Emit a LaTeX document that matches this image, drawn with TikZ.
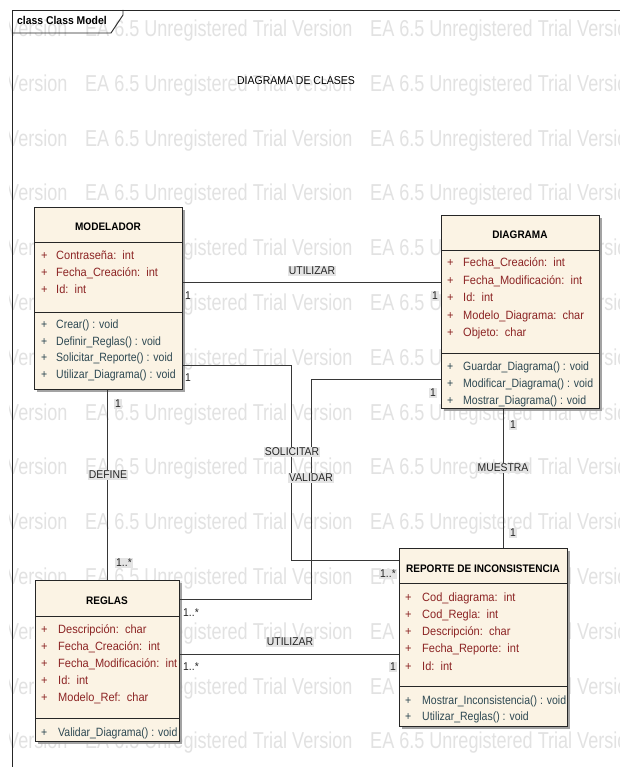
\documentclass[tikz,border=0pt]{standalone}
\usepackage{fontspec}
\setmainfont{Liberation Sans}[FakeStretch=0.92]
\newfontfamily\opfam{Liberation Sans}[FakeStretch=0.875]
\newfontfamily\wmfam{Liberation Sans}[FakeStretch=0.785]
\usetikzlibrary{shadows}
\definecolor{boxfill}{RGB}{251,243,228}
\definecolor{attrc}{RGB}{140,36,36}
\definecolor{opc}{RGB}{45,72,82}
\definecolor{linec}{RGB}{55,55,55}
\definecolor{wmc}{RGB}{226,226,226}
\definecolor{lblbg}{RGB}{228,228,228}
\newcommand\eatitlefont{\bfseries\fontsize{10.9}{12}\selectfont}
\newcommand\eaattrfont{\fontsize{12}{14}\selectfont}
\newcommand\eaopfont{\opfam\fontsize{12}{14}\selectfont}
\newcommand\ealblfont{\fontsize{11.3}{13}\selectfont}
\tikzset{
  cls/.style={draw=black!85, fill=boxfill, line width=0.9pt, inner sep=0pt, anchor=north west,
    drop shadow={shadow xshift=3pt, shadow yshift=-3pt, fill=black!40, opacity=0.9}},
  sep/.style={draw=black!85, line width=0.9pt},
  ctitle/.style={font=\eatitlefont, inner sep=0pt, anchor=base},
  attr/.style={font=\eaattrfont, inner sep=0pt, anchor=base west, text=attrc},
  oper/.style={font=\eaopfont, inner sep=0pt, anchor=base west, text=opc},
  conn/.style={draw=linec, line width=0.9pt},
  lbl/.style={font=\ealblfont, inner sep=1pt, text depth=0pt, text=black!85, fill=lblbg},
  mult/.style={font=\ealblfont, inner sep=1pt, text depth=0pt, text=black!85},
  wm/.style={font=\wmfam\fontsize{23}{26}\selectfont, text=wmc, inner sep=0pt, anchor=base west},
}
\begin{document}
\begin{tikzpicture}[x=1pt, y=-1pt]
\useasboundingbox[fill=white] (0,0) rectangle (620,767);
% watermark
\begin{scope}
\clip (9,0) rectangle (620,767);
\foreach \k in {0,...,13}{
  \foreach \i/\xx in {a/-200, b/85, c/370}{
    \node[wm] (wm\k\i) at (\xx, 36.5+54.8*\k) {EA 6.5 Unregistered Trial Version};
  }
}
\end{scope}
% frame
\draw[line width=0.9pt, black!85] (12,767) -- (12,10) -- (620,10);
\draw[line width=0.9pt, black!85] (12,33) -- (111,33) -- (123,15) -- (123,10);
\node[font=\bfseries\fontsize{11.3}{13}\selectfont, inner sep=0pt, anchor=base west] (frmlbl) at (17,25) {class Class Model};
\node[font=\fontsize{11.4}{13}\selectfont, inner sep=0pt, anchor=base] (dtitle) at (296,85) {DIAGRAMA DE CLASES};

% classes
\node[cls, minimum width=148pt, minimum height=182pt] (mod) at (34,207) {};
\node[cls, minimum width=158pt, minimum height=193pt] (dia) at (441,215) {};
\node[cls, minimum width=144pt, minimum height=161pt] (reg) at (35,580) {};
\node[cls, minimum width=168pt, minimum height=178pt] (rep) at (399,548) {};

\draw[sep] (34,242) -- (182,242);
\draw[sep] (34,312) -- (182,312);
\draw[sep] (441,250) -- (599,250);
\draw[sep] (441,353) -- (599,353);
\draw[sep] (35,616) -- (179,616);
\draw[sep] (35,718) -- (179,718);
\draw[sep] (399,583) -- (567,583);
\draw[sep] (399,686) -- (567,686);

% MODELADOR
\node[ctitle] (modt) at (108,230) {MODELADOR};
\node[attr] (m1p) at (41,259) {+};
\node[attr] (m1) at (56,259) {Contraseña:~~int};
\node[attr] (m2p) at (41,276) {+};
\node[attr] (m2) at (56,276) {Fecha\_Creación:~~int};
\node[attr] (m3p) at (41,293) {+};
\node[attr] (m3) at (56,293) {Id:~~int};
\node[oper] (m4p) at (41,328) {+};
\node[oper] (m4) at (56,328) {Crear() : void};
\node[oper] (m5p) at (41,345) {+};
\node[oper] (m5) at (56,345) {Definir\_Reglas() : void};
\node[oper] (m6p) at (41,361) {+};
\node[oper] (m6) at (56,361) {Solicitar\_Reporte() : void};
\node[oper] (m7p) at (41,378) {+};
\node[oper] (m7) at (56,378) {Utilizar\_Diagrama() : void};

% DIAGRAMA
\node[ctitle] (diat) at (520,238) {DIAGRAMA};
\node[attr] (d1p) at (447,266) {+};
\node[attr] (d1) at (463,266) {Fecha\_Creación:~~int};
\node[attr] (d2p) at (447,284) {+};
\node[attr] (d2) at (463,284) {Fecha\_Modificación:~~int};
\node[attr] (d3p) at (447,301) {+};
\node[attr] (d3) at (463,301) {Id:~~int};
\node[attr] (d4p) at (447,319) {+};
\node[attr] (d4) at (463,319) {Modelo\_Diagrama:~~char};
\node[attr] (d5p) at (447,336) {+};
\node[attr] (d5) at (463,336) {Objeto:~~char};
\node[oper] (d6p) at (447,370) {+};
\node[oper] (d6) at (463,370) {Guardar\_Diagrama() : void};
\node[oper] (d7p) at (447,387) {+};
\node[oper] (d7) at (463,387) {Modificar\_Diagrama() : void};
\node[oper] (d8p) at (447,404) {+};
\node[oper] (d8) at (463,404) {Mostrar\_Diagrama() : void};

% REGLAS
\node[ctitle] (regt) at (107,604) {REGLAS};
\node[attr] (r1p) at (41,633) {+};
\node[attr] (r1) at (58,633) {Descripción:~~char};
\node[attr] (r2p) at (41,650) {+};
\node[attr] (r2) at (58,650) {Fecha\_Creación:~~int};
\node[attr] (r3p) at (41,667) {+};
\node[attr] (r3) at (58,667) {Fecha\_Modificación:~~int};
\node[attr] (r4p) at (41,684) {+};
\node[attr] (r4) at (58,684) {Id:~~int};
\node[attr] (r5p) at (41,701) {+};
\node[attr] (r5) at (58,701) {Modelo\_Ref:~~char};
\node[oper] (r6p) at (41,736) {+};
\node[oper] (r6) at (58,736) {Validar\_Diagrama() : void};

% REPORTE
\node[ctitle] (rept) at (483,572) {REPORTE DE INCONSISTENCIA};
\node[attr] (p1p) at (405,601) {+};
\node[attr] (p1) at (422,601) {Cod\_diagrama:~~int};
\node[attr] (p2p) at (405,618) {+};
\node[attr] (p2) at (422,618) {Cod\_Regla:~~int};
\node[attr] (p3p) at (405,635) {+};
\node[attr] (p3) at (422,635) {Descripción:~~char};
\node[attr] (p4p) at (405,652) {+};
\node[attr] (p4) at (422,652) {Fecha\_Reporte:~~int};
\node[attr] (p5p) at (405,670) {+};
\node[attr] (p5) at (422,670) {Id:~~int};
\node[oper] (p6p) at (405,704) {+};
\node[oper] (p6) at (422,704) {Mostrar\_Inconsistencia() : void};
\node[oper] (p7p) at (405,720) {+};
\node[oper] (p7) at (422,720) {Utilizar\_Reglas() : void};

% connector waypoints
\coordinate (cu1) at (300,282);
\coordinate (sA) at (291,365);
\coordinate (sB) at (291,560);
\coordinate (vA) at (311,379);
\coordinate (vB) at (311,599);
\coordinate (cu2) at (300,654);
\coordinate (dfx) at (107,0);
\coordinate (msx) at (503,0);

\draw[conn] (mod.east |- cu1) -- (dia.west |- cu1);
\draw[conn] (mod.east |- sA) -- (sA) -- (sB) -- (rep.west |- sB);
\draw[conn] (dia.west |- vA) -- (vA) -- (vB) -- (reg.east |- vB);
\draw[conn] (reg.east |- cu2) -- (rep.west |- cu2);
\draw[conn] (mod.south -| dfx) -- (reg.north -| dfx);
\draw[conn] (dia.south -| msx) -- (rep.north -| msx);

% labels
\node[lbl] (lu1) at (312,271) {UTILIZAR};
\node[mult] (mu1a) at (188,296) {1};
\node[lbl] (mu1b) at (435,296) {1};
\node[lbl] (lsol) at (292,452) {SOLICITAR};
\node[mult] (msa) at (188,378) {1};
\node[lbl] (msb) at (388,574) {1..*};
\node[lbl] (lval) at (311,478) {VALIDAR};
\node[lbl] (mva) at (433,393) {1};
\node[mult] (mvb) at (191,613) {1..*};
\node[lbl] (lu2) at (290,642) {UTILIZAR};
\node[mult] (mu2a) at (191,667) {1..*};
\node[lbl] (mu2b) at (393,667) {1};
\node[lbl] (ldef) at (108,475) {DEFINE};
\node[lbl] (mda) at (118,404) {1};
\node[lbl] (mdb) at (124,563) {1..*};
\node[lbl] (lmue) at (503,468) {MUESTRA};
\node[lbl] (mma) at (513,425) {1};
\node[lbl] (mmb) at (513,533) {1};
\end{tikzpicture}
\end{document}
